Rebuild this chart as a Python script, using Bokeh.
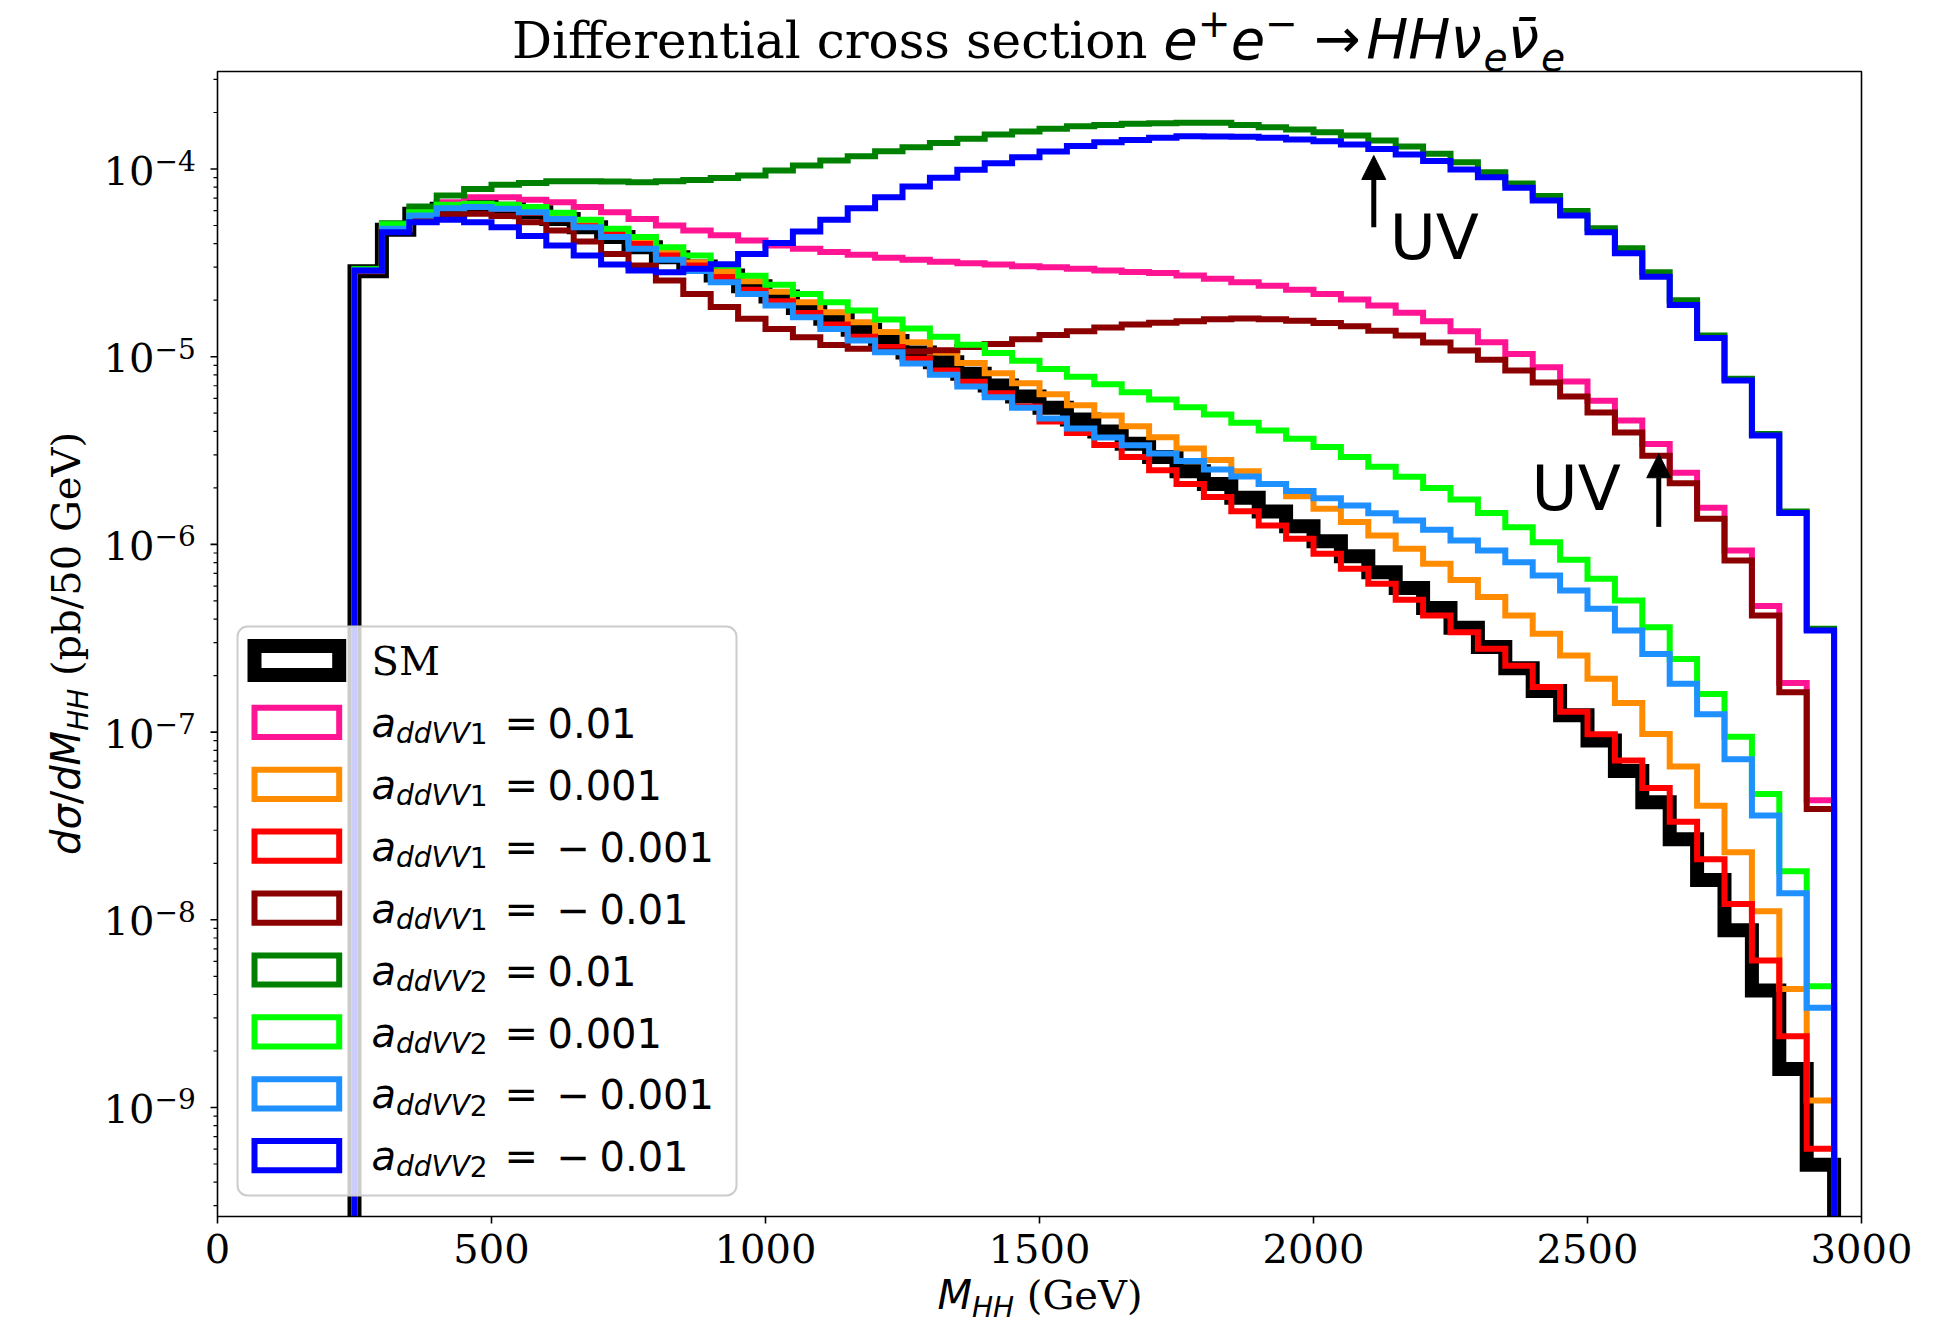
import math
from bokeh.plotting import figure
from bokeh.models import Range1d, LogScale, Label, BoxAnnotation, Arrow, NormalHead
from bokeh.embed import file_html
from bokeh.resources import INLINE

# ---------------------------------------------------------------------------
# Histogram binning of M_HH (GeV): 50 GeV bins from 250 to 2950 GeV
bin_edges = list(range(250, 3000, 50))

# dsigma/dM_HH (pb / 50 GeV), one value per bin
sm = [2.85e-5, 4.74e-5, 5.77e-5, 6.14e-5, 6.27e-5, 6.14e-5, 5.89e-5, 5.42e-5, 4.90e-5, 4.34e-5,
      3.83e-5, 3.39e-5, 3.02e-5, 2.71e-5, 2.37e-5, 2.09e-5, 1.820e-5, 1.592e-5, 1.390e-5, 1.211e-5,
      1.054e-5, 9.35e-6, 8.11e-6, 7.03e-6, 6.14e-6, 5.35e-6, 4.63e-6, 4.00e-6, 3.44e-6, 2.92e-6,
      2.45e-6, 2.10e-6, 1.770e-6, 1.496e-6, 1.250e-6, 1.040e-6, 8.65e-7, 7.11e-7, 5.85e-7, 4.59e-7,
      3.60e-7, 2.84e-7, 2.19e-7, 1.656e-7, 1.230e-7, 9.02e-8, 6.21e-8, 4.23e-8, 2.69e-8, 1.629e-8,
      8.81e-9, 4.20e-9, 1.603e-9, 4.95e-10]
a1_p01 = [2.92e-5, 5.01e-5, 5.96e-5, 6.65e-5, 7.08e-5, 7.08e-5, 6.85e-5, 6.65e-5, 6.27e-5, 5.89e-5,
          5.42e-5, 5.00e-5, 4.70e-5, 4.43e-5, 4.16e-5, 3.91e-5, 3.76e-5, 3.61e-5, 3.49e-5, 3.37e-5,
          3.28e-5, 3.21e-5, 3.15e-5, 3.10e-5, 3.03e-5, 3.00e-5, 2.94e-5, 2.88e-5, 2.83e-5, 2.79e-5,
          2.71e-5, 2.60e-5, 2.49e-5, 2.39e-5, 2.27e-5, 2.16e-5, 2.02e-5, 1.875e-5, 1.714e-5, 1.545e-5,
          1.368e-5, 1.194e-5, 1.035e-5, 8.79e-6, 7.38e-6, 5.83e-6, 4.57e-6, 3.43e-6, 2.41e-6, 1.567e-6,
          9.29e-7, 4.69e-7, 1.828e-7, 4.33e-8]
a1_p001 = [2.88e-5, 4.81e-5, 5.81e-5, 6.24e-5, 6.35e-5, 6.24e-5, 5.98e-5, 5.55e-5, 5.07e-5, 4.55e-5,
           4.06e-5, 3.61e-5, 3.18e-5, 2.84e-5, 2.52e-5, 2.22e-5, 1.950e-5, 1.726e-5, 1.528e-5, 1.352e-5,
           1.194e-5, 1.052e-5, 9.25e-6, 8.17e-6, 7.23e-6, 6.31e-6, 5.52e-6, 4.86e-6, 4.26e-6, 3.72e-6,
           3.24e-6, 2.82e-6, 2.45e-6, 2.10e-6, 1.803e-6, 1.549e-6, 1.315e-6, 1.117e-6, 9.48e-7, 7.89e-7,
           6.47e-7, 5.24e-7, 4.18e-7, 3.34e-7, 2.56e-7, 1.923e-7, 1.429e-7, 9.77e-8, 6.55e-8, 4.05e-8,
           2.29e-8, 1.112e-8, 4.28e-9, 1.089e-9]
a1_m001 = [2.85e-5, 4.76e-5, 5.78e-5, 6.17e-5, 6.27e-5, 6.12e-5, 5.85e-5, 5.40e-5, 4.95e-5, 4.51e-5,
           3.99e-5, 3.46e-5, 3.06e-5, 2.65e-5, 2.27e-5, 1.977e-5, 1.710e-5, 1.483e-5, 1.279e-5, 1.125e-5,
           9.75e-6, 8.45e-6, 7.35e-6, 6.38e-6, 5.43e-6, 4.51e-6, 3.92e-6, 3.39e-6, 2.92e-6, 2.48e-6,
           2.10e-6, 1.786e-6, 1.503e-6, 1.262e-6, 1.072e-6, 8.91e-7, 7.41e-7, 6.17e-7, 5.07e-7, 4.18e-7,
           3.40e-7, 2.78e-7, 2.26e-7, 1.738e-7, 1.285e-7, 9.75e-8, 7.06e-8, 5.04e-8, 3.33e-8, 2.10e-8,
           1.213e-8, 6.07e-9, 2.40e-9, 6.03e-10]
a1_m01 = [2.88e-5, 4.90e-5, 5.42e-5, 5.71e-5, 5.77e-5, 5.61e-5, 5.21e-5, 4.70e-5, 4.11e-5, 3.53e-5,
          3.06e-5, 2.55e-5, 2.16e-5, 1.841e-5, 1.592e-5, 1.406e-5, 1.271e-5, 1.156e-5, 1.102e-5, 1.069e-5,
          1.067e-5, 1.081e-5, 1.125e-5, 1.169e-5, 1.239e-5, 1.303e-5, 1.365e-5, 1.429e-5, 1.483e-5, 1.517e-5,
          1.545e-5, 1.581e-5, 1.596e-5, 1.585e-5, 1.552e-5, 1.510e-5, 1.452e-5, 1.374e-5, 1.297e-5, 1.191e-5,
          1.079e-5, 9.62e-6, 8.43e-6, 7.28e-6, 6.14e-6, 5.04e-6, 3.94e-6, 2.97e-6, 2.12e-6, 1.368e-6,
          8.20e-7, 4.18e-7, 1.629e-7, 3.89e-8]
a2_p01 = [2.94e-5, 5.14e-5, 6.31e-5, 7.23e-5, 7.83e-5, 8.24e-5, 8.43e-5, 8.61e-5, 8.61e-5, 8.57e-5,
          8.51e-5, 8.61e-5, 8.75e-5, 8.95e-5, 9.23e-5, 9.82e-5, 1.045e-4, 1.109e-4, 1.169e-4, 1.245e-4,
          1.306e-4, 1.374e-4, 1.449e-4, 1.528e-4, 1.585e-4, 1.637e-4, 1.687e-4, 1.718e-4, 1.742e-4, 1.754e-4,
          1.766e-4, 1.762e-4, 1.718e-4, 1.671e-4, 1.622e-4, 1.570e-4, 1.510e-4, 1.419e-4, 1.318e-4, 1.205e-4,
          1.086e-4, 9.62e-5, 8.38e-5, 7.18e-5, 5.98e-5, 4.84e-5, 3.78e-5, 2.82e-5, 2.00e-5, 1.297e-5,
          7.62e-6, 3.88e-6, 1.496e-6, 3.55e-7]
a2_p001 = [2.92e-5, 5.07e-5, 5.89e-5, 6.44e-5, 6.52e-5, 6.44e-5, 6.27e-5, 5.85e-5, 5.36e-5, 4.80e-5,
           4.34e-5, 3.83e-5, 3.46e-5, 3.05e-5, 2.70e-5, 2.42e-5, 2.16e-5, 1.950e-5, 1.762e-5, 1.578e-5,
           1.413e-5, 1.279e-5, 1.159e-5, 1.045e-5, 9.51e-6, 8.61e-6, 7.82e-6, 7.13e-6, 6.47e-6, 5.92e-6,
           5.38e-6, 4.92e-6, 4.45e-6, 4.05e-6, 3.66e-6, 3.30e-6, 2.92e-6, 2.59e-6, 2.29e-6, 2.00e-6,
           1.734e-6, 1.472e-6, 1.236e-6, 1.028e-6, 8.28e-7, 6.56e-7, 5.02e-7, 3.62e-7, 2.45e-7, 1.596e-7,
           9.44e-8, 4.68e-8, 1.816e-8, 4.43e-9]
a2_m001 = [2.88e-5, 4.80e-5, 5.65e-5, 6.18e-5, 6.27e-5, 6.14e-5, 5.89e-5, 5.42e-5, 4.90e-5, 4.34e-5,
           3.76e-5, 3.28e-5, 2.86e-5, 2.49e-5, 2.16e-5, 1.875e-5, 1.622e-5, 1.406e-5, 1.219e-5, 1.057e-5,
           9.20e-6, 8.02e-6, 6.93e-6, 6.08e-6, 5.35e-6, 4.69e-6, 4.15e-6, 3.71e-6, 3.37e-6, 3.05e-6,
           2.78e-6, 2.51e-6, 2.30e-6, 2.10e-6, 1.923e-6, 1.762e-6, 1.611e-6, 1.466e-6, 1.340e-6, 1.197e-6,
           1.050e-6, 9.29e-7, 8.04e-7, 6.82e-7, 5.68e-7, 4.54e-7, 3.48e-7, 2.61e-7, 1.807e-7, 1.245e-7,
           7.16e-8, 3.60e-8, 1.384e-8, 3.40e-9]
a2_m01 = [2.88e-5, 4.60e-5, 5.21e-5, 5.36e-5, 5.21e-5, 4.90e-5, 4.39e-5, 3.91e-5, 3.46e-5, 3.10e-5,
          2.88e-5, 2.82e-5, 2.94e-5, 3.11e-5, 3.53e-5, 4.03e-5, 4.65e-5, 5.36e-5, 6.18e-5, 7.08e-5,
          8.07e-5, 8.97e-5, 9.91e-5, 1.074e-4, 1.156e-4, 1.239e-4, 1.324e-4, 1.390e-4, 1.429e-4, 1.466e-4,
          1.493e-4, 1.489e-4, 1.483e-4, 1.466e-4, 1.435e-4, 1.406e-4, 1.352e-4, 1.279e-4, 1.194e-4, 1.102e-4,
          9.93e-5, 9.04e-5, 7.94e-5, 6.79e-5, 5.65e-5, 4.60e-5, 3.56e-5, 2.67e-5, 1.888e-5, 1.259e-5,
          7.46e-6, 3.80e-6, 1.472e-6, 3.48e-7]

# Series in drawing / legend order
series = [sm, a1_p01, a1_p001, a1_m001, a1_m01, a2_p01, a2_p001, a2_m001, a2_m01]
couplings = [None, "ddVV1", "ddVV1", "ddVV1", "ddVV1", "ddVV2", "ddVV2", "ddVV2", "ddVV2"]
signs = [None, "", "", "\u2212", "\u2212", "", "", "\u2212", "\u2212"]
magnitudes = [None, "0.01", "0.001", "0.001", "0.01", "0.01", "0.001", "0.001", "0.01"]
colors = ["#000000", "#ff1493", "#ff8c00", "#ff0000", "#8b0000",
          "#008000", "#00ff00", "#1e90ff", "#0000ff"]
line_widths = [14, 6, 6, 6, 6, 6, 6, 6, 6]

# Unitarity-violation markers (M_HH in GeV, cross sections in pb)
uv_arrow_x = [2110, 2630]
uv_arrow_tail = [4.9e-5, 1.24e-6]
uv_arrow_tip = [1.18e-4, 3.04e-6]
uv_text_x = [2139, 2398]
uv_text_y = [3.25e-5, 1.50e-6]

x_ticks = [0, 500, 1000, 1500, 2000, 2500, 3000]
y_decades = [-9, -8, -7, -6, -5, -4]

# ---------------------------------------------------------------------------
W, H = 1957, 1323
FL, FR, FT, FB = 217, 1861, 71, 1216          # axes box in canvas pixels
X0, X1 = 0.0, 3000.0                           # axes limits
Y0, Y1 = 2.626e-10, 3.307e-4
LY0, LY1 = math.log10(Y0), math.log10(Y1)
K_BASE = 0.36                                  # label anchor -> glyph baseline, in em

SERIF = "DejaVu Serif"
SANS = "DejaVu Sans"


def gx(px):
    return X0 + (px - FL) / (FR - FL) * (X1 - X0)


def gy(py):
    return 10 ** (LY1 - (py - FT) / (FB - FT) * (LY1 - LY0))


def py_of(v):
    return FT + (LY1 - math.log10(v)) / (LY1 - LY0) * (FB - FT)


SANS_W = {' ': .318, '+': .838, '\u2212': .838, '=': .838, '.': .318, '/': .337,
          'G': .775, 'H': .752, 'M': .863, 'V': .684, 'U': .732, 'a': .613, 'd': .635,
          'e': .615, '\u03c3': .634, '\u03bd': .592, '\u2192': .838, '(': .390, ')': .390,
          '\u0304': 0.0}
SERIF_W = {' ': .318, '(': .390, ')': .390, '/': .337, 'D': .770, 'G': .775, 'M': .955,
           'S': .686, 'V': .722, 'a': .596, 'b': .640, 'c': .560, 'e': .592, 'f': .370,
           'i': .320, 'l': .320, 'n': .644, 'o': .602, 'p': .640, 'r': .478, 's': .513,
           't': .402}
for d in "0123456789":
    SANS_W[d] = .636
    SERIF_W[d] = .636


def text_width(text, font, size):
    table = SERIF_W if font == SERIF else SANS_W
    return sum(table.get(c, .6) for c in text) * size


# The frame spans the whole canvas; the axes box is drawn inside it so that
# every label around the box is rendered without clipping.
p = figure(width=W, height=H, title=None,
           x_range=Range1d(gx(0), gx(W)), y_range=Range1d(gy(H), gy(0)),
           y_axis_type="log", x_axis_location=None, y_axis_location=None,
           output_backend="svg", toolbar_location=None, min_border=0)
p.y_scale = LogScale()
p.background_fill_color = "white"
p.border_fill_color = "white"
p.outline_line_color = None
p.xgrid.visible = False
p.ygrid.visible = False

# Step histograms, each closed down to the lower axis limit
for vals, col, lw in zip(series, colors, line_widths):
    xs = [bin_edges[0]]
    ys = [Y0]
    for i, v in enumerate(vals):
        xs += [bin_edges[i], bin_edges[i + 1]]
        ys += [v, v]
    xs.append(bin_edges[len(vals)])
    ys.append(Y0)
    p.line(xs, ys, line_color=col, line_width=lw, line_join="miter")

# Axes box and tick marks
p.quad(left=X0, right=X1, bottom=Y0, top=Y1, fill_color=None,
       line_color="black", line_width=1.6)
p.segment(x0=x_ticks, y0=[Y0] * len(x_ticks), x1=x_ticks, y1=[gy(FB + 7)] * len(x_ticks),
          line_color="black", line_width=1.6)
y_major = [10.0 ** e for e in y_decades]
p.segment(x0=[X0] * len(y_major), y0=y_major, x1=[gx(FL - 7)] * len(y_major), y1=y_major,
          line_color="black", line_width=1.6)
y_minor = [m * 10.0 ** e for e in range(-10, -3) for m in range(2, 10)
           if Y0 <= m * 10.0 ** e <= Y1]
p.segment(x0=[X0] * len(y_minor), y0=y_minor, x1=[gx(FL - 4)] * len(y_minor), y1=y_minor,
          line_color="black", line_width=1.2)


def put(px, py, text, font, size, style="normal", align="left", angle=0.0):
    """Place a text run whose glyph baseline sits at canvas pixel (px, py)."""
    if angle:
        px -= K_BASE * size
    else:
        py -= K_BASE * size
    p.add_layout(Label(x=gx(px), y=gy(py), text=text, text_font=font,
                       text_font_size=f"{size:.1f}px", text_font_style=style,
                       text_align=align, text_baseline="alphabetic", angle=angle,
                       text_color="black"))


def runs_h(x, y, runs):
    for text, font, size, style, dy in runs:
        if text.strip():
            put(x, y - dy, text, font, size, style)
        x += text_width(text, font, size)


def runs_width(runs):
    return sum(text_width(t, f, s) for t, f, s, _, _ in runs)


# Tick labels
for t in x_ticks:
    p.add_layout(Label(x=t, y=gy(1262 - K_BASE * 40), text=str(t), text_font=SERIF,
                       text_font_size="40px", text_align="center",
                       text_baseline="alphabetic", text_color="black"))
for e in y_decades:
    ty = py_of(10.0 ** e)
    put(103, ty + 15.5, "10", SERIF, 40)
    put(154, ty + 1.5, f"\u2212{-e}", SERIF, 28)

# Title
TS, MS = 50, 56
title_runs = [("Differential cross section", SERIF, TS, "normal", 0),
              (" ", SERIF, TS, "normal", 0),
              ("e", SANS, MS, "italic", 0), ("+", SANS, 0.7 * MS, "normal", 0.4 * MS),
              ("e", SANS, MS, "italic", 0), ("\u2212", SANS, 0.7 * MS, "normal", 0.4 * MS),
              (" ", SANS, 0.9 * MS, "normal", 0), ("\u2192", SANS, MS, "normal", 0),
              (" ", SANS, 0.3 * MS, "normal", 0),
              ("HH", SANS, MS, "italic", 0), ("\u03bd", SANS, MS, "italic", 0),
              ("e", SANS, 0.7 * MS, "italic", -0.2 * MS),
              ("\u03bd\u0304", SANS, MS, "italic", 0),
              ("e", SANS, 0.7 * MS, "italic", -0.2 * MS)]
runs_h(1038 - runs_width(title_runs) / 2, 58.5, title_runs)

# x-axis label
xl_runs = [("M", SANS, 40, "italic", 0), ("HH", SANS, 28, "italic", -8),
           (" ", SERIF, 40, "normal", 0), ("(GeV)", SERIF, 40, "normal", 0)]
runs_h(1039 - runs_width(xl_runs) / 2, 1309, xl_runs)

# y-axis label (rotated, reading upwards)
yl_runs = [("d", SANS, 40, "italic", 0), ("\u03c3", SANS, 40, "italic", 0),
           ("/", SANS, 40, "normal", 0), ("d", SANS, 40, "italic", 0),
           ("M", SANS, 40, "italic", 0), ("HH", SANS, 28, "italic", -8),
           (" ", SERIF, 40, "normal", 0), ("(pb/50 GeV)", SERIF, 40, "normal", 0)]
yy = 643.5 + runs_width(yl_runs) / 2
for text, font, size, style, dy in yl_runs:
    if text.strip():
        put(80 - dy, yy, text, font, size, style, angle=math.pi / 2)
    yy -= text_width(text, font, size)

# UV markers
for ax_, t0, t1, tx, ty in zip(uv_arrow_x, uv_arrow_tail, uv_arrow_tip, uv_text_x, uv_text_y):
    p.add_layout(Arrow(end=NormalHead(size=24, fill_color="black", line_color="black",
                                      line_width=1),
                       x_start=ax_, y_start=t0, x_end=ax_, y_end=t1,
                       line_color="black", line_width=5))
    p.add_layout(Label(x=tx, y=gy(py_of(ty) - K_BASE * 63), text="UV", text_font=SANS,
                       text_font_size="63px", text_baseline="alphabetic",
                       text_color="black"))

# Legend
p.add_layout(BoxAnnotation(left=gx(237), right=gx(736), top=gy(626), bottom=gy(1195),
                           fill_color="white", fill_alpha=0.8, line_color="#cccccc",
                           line_alpha=1.0, line_width=2, border_radius=10))
for i, (col, lw) in enumerate(zip(colors, line_widths)):
    cy = 660 + 61.9 * i
    p.add_layout(BoxAnnotation(left=gx(254), right=gx(338.7), top=gy(cy - 14.6),
                               bottom=gy(cy + 14.6), fill_color="white", fill_alpha=1.0,
                               line_color=col, line_alpha=1.0, line_width=lw,
                               line_join="miter"))
    if couplings[i] is None:
        put(371, cy + 14.4, "SM", SERIF, 40)
        continue
    put(371, cy + 15, "a", SANS, 40, "italic")
    sub = couplings[i]
    put(395.5, cy + 21.3, sub[:-1], SANS, 28, "italic")
    put(395.5 + text_width(sub[:-1], SANS, 28), cy + 21.3, sub[-1], SANS, 28)
    put(504, cy + 15, "=", SANS, 40)
    if signs[i]:
        put(556, cy + 15, signs[i], SANS, 40)
        put(599, cy + 15, magnitudes[i], SANS, 40)
    else:
        put(547, cy + 15, magnitudes[i], SANS, 40)

open("out.html", "w").write(file_html(p, INLINE))
